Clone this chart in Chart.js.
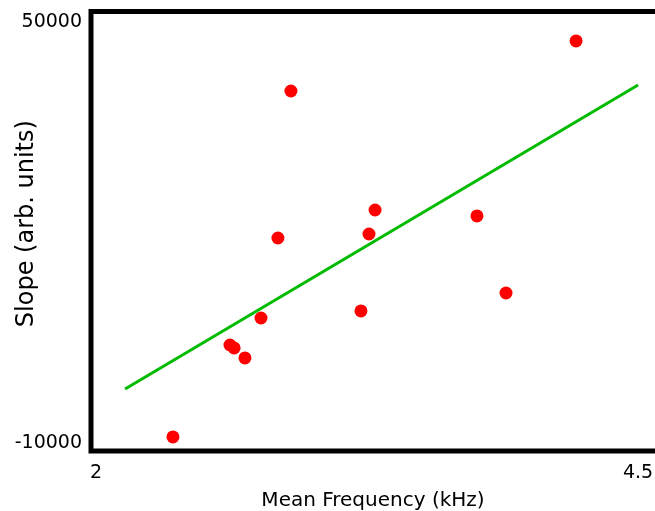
<!DOCTYPE html>
<html>
<head>
<meta charset="utf-8">
<script src="https://cdn.jsdelivr.net/npm/chart.js@4.4.1/dist/chart.umd.min.js"></script>
<style>
  html, body { margin: 0; padding: 0; background: #fff; }
  #wrap { width: 655px; height: 511px; }
</style>
</head>
<body>
<div id="wrap"><canvas id="chart"></canvas></div>
<script>
// measured points (mean frequency in kHz, slope in arb. units)
const freq = [4.214, 2.899, 3.287, 3.757, 3.259, 2.839, 3.891, 3.222, 2.761, 2.618, 2.637, 2.687, 2.355];
const slope = [47300, 40170, 23210, 22360, 19790, 19220, 11380, 8820, 7820, 3970, 3550, 2120, -9140];

// fitted line end points
const fitX = [2.134, 4.5];
const fitY = [-2300, 41020];

const xTicks = [2, 4.5];
const yTicks = [-10000, 50000];

const points = freq.map((f, i) => ({ x: f, y: slope[i] }));
const fit = fitX.map((f, i) => ({ x: f, y: fitY[i] }));

// black frame on left, top and bottom
const frame = {
  id: "frame",
  afterDraw(chart) {
    const { ctx, chartArea: a } = chart;
    ctx.save();
    ctx.strokeStyle = "#000";
    ctx.lineWidth = 5;
    ctx.beginPath();
    ctx.moveTo(a.right + 10, a.top);
    ctx.lineTo(a.left, a.top);
    ctx.lineTo(a.left, a.bottom);
    ctx.lineTo(a.right + 10, a.bottom);
    ctx.stroke();
    ctx.restore();
  }
};

new Chart(document.getElementById("chart"), {
  type: "scatter",
  data: {
    datasets: [
      {
        type: "line",
        data: fit,
        borderColor: "#00bb00",
        borderWidth: 3,
        pointRadius: 0,
        fill: false
      },
      {
        data: points,
        backgroundColor: "#ff0000",
        borderColor: "#ff0000",
        borderWidth: 0,
        pointRadius: 6.5,
        pointHoverRadius: 6.5
      }
    ]
  },
  options: {
    responsive: true,
    maintainAspectRatio: false,
    animation: false,
    layout: { autoPadding: false, padding: { top: 11.5, right: 0, bottom: 0, left: 0 } },
    plugins: { legend: { display: false }, tooltip: { enabled: false } },
    scales: {
      x: {
        type: "linear",
        min: 1.977,
        max: 4.578,
        afterBuildTicks: s => { s.ticks = xTicks.map(v => ({ value: v })); },
        afterFit: s => { s.height = 60; s.paddingLeft = 0; s.paddingRight = 0; },
        grid: { display: false, drawTicks: false },
        border: { display: false },
        ticks: {
          padding: 11,
          color: "#000",
          font: { family: "DejaVu Sans", size: 19 },
          maxRotation: 0
        },
        title: {
          display: true,
          text: "Mean Frequency (kHz)",
          color: "#000",
          padding: 0,
          font: { family: "DejaVu Sans", size: 20, lineHeight: 1 }
        }
      },
      y: {
        min: -11140,
        max: 51500,
        afterBuildTicks: s => { s.ticks = yTicks.map(v => ({ value: v })); },
        afterFit: s => { s.width = 91; s.paddingTop = 0; s.paddingBottom = 0; },
        grid: { display: false, drawTicks: false },
        border: { display: false },
        ticks: {
          padding: 9,
          color: "#000",
          font: { family: "DejaVu Sans", size: 19 },
          callback: v => String(v)
        },
        title: {
          display: true,
          // two leading spaces nudge the label up a little, as in the original
          text: "  Slope (arb. units)",
          color: "#000",
          padding: { top: 12, bottom: 0 },
          font: { family: "DejaVu Sans", size: 24 }
        }
      }
    }
  },
  plugins: [frame]
});
</script>
</body>
</html>
